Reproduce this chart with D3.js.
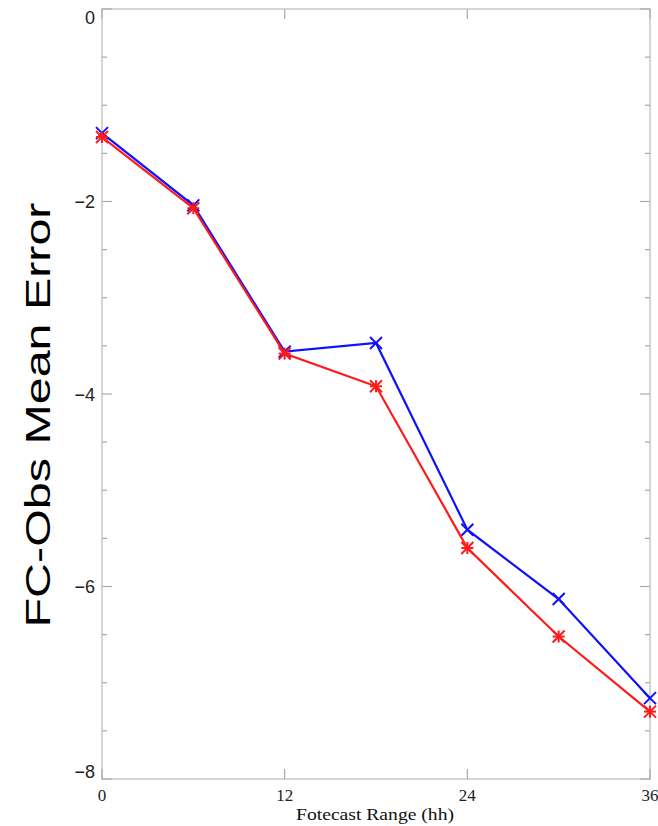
<!DOCTYPE html>
<html><head><meta charset="utf-8">
<script src="https://cdn.jsdelivr.net/npm/d3@7"></script>
<style>body{margin:0;background:#fff}</style>
</head><body>
<script>
const hours = [0, 6, 12, 18, 24, 30, 36];
const blueValues = [-1.29, -2.04, -3.56, -3.47, -5.41, -6.13, -7.16];
const redValues  = [-1.33, -2.07, -3.58, -3.92, -5.60, -6.52, -7.30];
const xTicks = [0, 12, 24, 36];
const yTicks = [0, -2, -4, -6, -8];
const yMinorTicks = d3.range(0, -8.01, -0.5);

const W = 658, H = 826;
const m = {left: 102, right: 8, top: 9, bottom: 47};
const svg = d3.select("body").append("svg").attr("width", W).attr("height", H);
const x = d3.scaleLinear().domain([0, 36]).range([m.left, W - m.right]);
const y = d3.scaleLinear().domain([-8, 0]).range([H - m.bottom, m.top]);

const frame = svg.append("g");
frame.append("rect").attr("x", x(0)).attr("y", y(0)).attr("width", x(36) - x(0)).attr("height", y(-8) - y(0))
  .attr("fill", "none").attr("stroke", "#c8c8c8").attr("stroke-width", 1.5);

yMinorTicks.forEach(v => {
  const major = Math.abs(v % 2) < 1e-6;
  const len = major ? 10 : 5;
  frame.append("line").attr("x1", x(0)).attr("x2", x(0) + len).attr("y1", y(v)).attr("y2", y(v)).attr("stroke", "#aaa").attr("stroke-width", 1.2);
  frame.append("line").attr("x1", x(36)).attr("x2", x(36) - len).attr("y1", y(v)).attr("y2", y(v)).attr("stroke", "#aaa").attr("stroke-width", 1.2);
});
xTicks.forEach(v => {
  frame.append("line").attr("x1", x(v)).attr("x2", x(v)).attr("y1", y(-8)).attr("y2", y(-8) - 10).attr("stroke", "#aaa").attr("stroke-width", 1.2);
  frame.append("line").attr("x1", x(v)).attr("x2", x(v)).attr("y1", y(0)).attr("y2", y(0) + 10).attr("stroke", "#aaa").attr("stroke-width", 1.2);
});

const yl = svg.append("g").attr("font-family", "Liberation Sans, Arial, sans-serif").attr("font-size", 18).attr("fill", "#222");
yTicks.forEach(v => {
  let yy = y(v) + 6.5;
  if (v === 0) yy = y(v) + 15;
  if (v === -8) yy = y(v) - 1;
  yl.append("text").attr("x", x(0) - 7).attr("y", yy).attr("text-anchor", "end").text(v === 0 ? "0" : "\u2212" + Math.abs(v));
});
const xl = svg.append("g").attr("font-family", "Liberation Serif, Times New Roman, serif").attr("font-size", 17).attr("fill", "#222");
xTicks.forEach(v => {
  xl.append("text").attr("x", x(v)).attr("y", 801).attr("text-anchor", "middle").text(v);
});
svg.append("text").attr("x", 375).attr("y", 820).attr("text-anchor", "middle")
  .attr("font-family", "Liberation Serif, Times New Roman, serif").attr("font-size", 17).attr("fill", "#111")
  .attr("textLength", 158).attr("lengthAdjust", "spacingAndGlyphs")
  .text("Fotecast Range (hh)");
svg.append("text").attr("transform", "translate(50,415) rotate(-90)").attr("text-anchor", "middle")
  .attr("font-family", "Liberation Sans, Arial, sans-serif").attr("font-size", 35).attr("fill", "#000")
  .attr("textLength", 425).attr("lengthAdjust", "spacingAndGlyphs")
  .text("FC-Obs Mean Error");

const line = d3.line().x((d, i) => x(hours[i])).y(d => y(d));
function series(vals, color, marker) {
  const g = svg.append("g");
  g.append("path").datum(vals).attr("d", line).attr("fill", "none").attr("stroke", color).attr("stroke-width", 2.2);
  vals.forEach((v, i) => {
    const cx = x(hours[i]), cy = y(v), s = 6;
    const segs = [];
    if (marker === "x" || marker === "*") { segs.push([-s, -s, s, s], [-s, s, s, -s]); }
    if (marker === "*") { segs.push([-s, 0, s, 0], [0, -s, 0, s]); }
    segs.forEach(q => g.append("line").attr("x1", cx + q[0]).attr("y1", cy + q[1]).attr("x2", cx + q[2]).attr("y2", cy + q[3])
      .attr("stroke", color).attr("stroke-width", 2));
  });
}
series(blueValues, "#1010ff", "x");
series(redValues, "#ff1a1a", "*");
</script>
</body></html>
